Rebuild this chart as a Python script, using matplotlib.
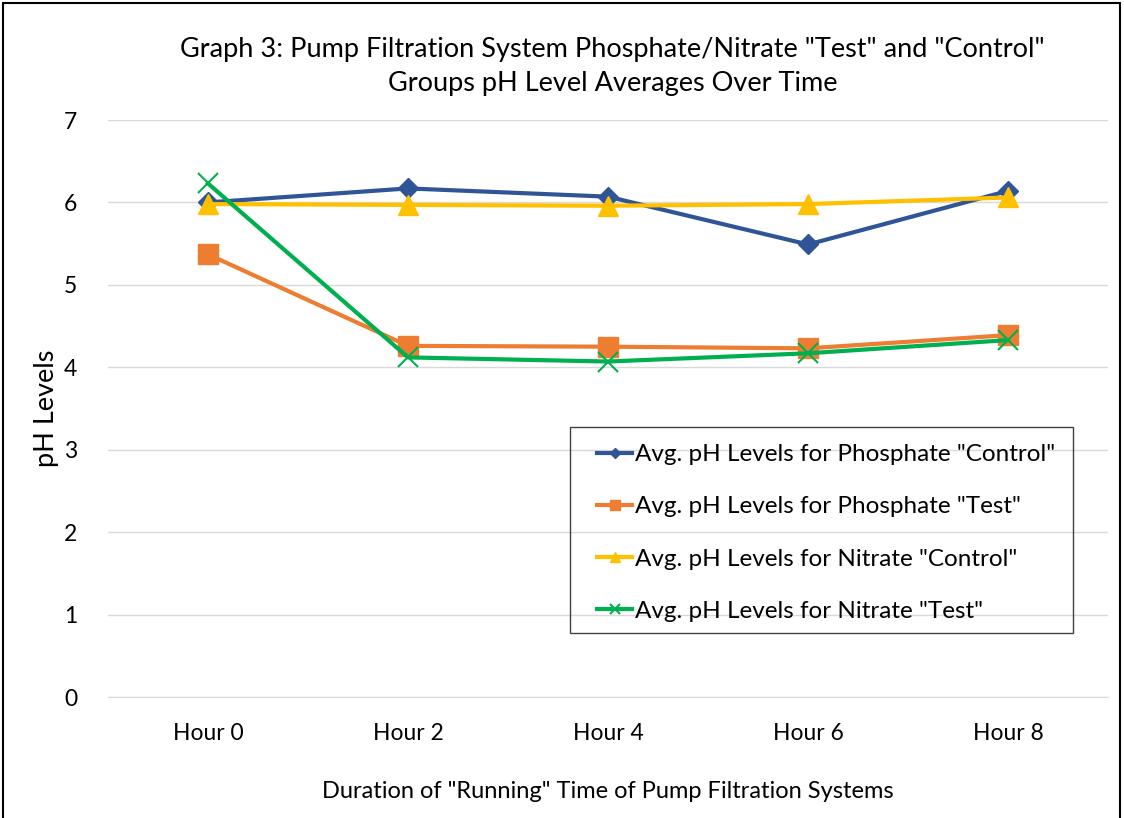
"""
Recreate Graph 3: pump filtration pH level averages over time.
"""

import matplotlib.pyplot as plt
from matplotlib.patches import Rectangle

plt.rcParams["font.family"] = ["Lato", "DejaVu Sans"]

HOURS = ["Hour 0", "Hour 2", "Hour 4", "Hour 6", "Hour 8"]

phosphate_control = [6.00, 6.17, 6.07, 5.49, 6.14]
phosphate_test = [5.37, 4.26, 4.25, 4.23, 4.39]
nitrate_control = [5.98, 5.97, 5.96, 5.98, 6.06]
nitrate_test = [6.23, 4.12, 4.07, 4.17, 4.33]


def main():
    fig = plt.figure(figsize=(11.24, 8.18), dpi=100)
    ax = fig.add_axes([0.0961, 0.1479, 0.8897, 0.7054])

    x = range(len(HOURS))
    ax.plot(x, phosphate_control, marker="D", markersize=10, linewidth=3,
            color="#2F5597", label='Avg. pH Levels for Phosphate "Control"')
    ax.plot(x, phosphate_test, marker="s", markersize=14, linewidth=3,
            color="#ED7D31", label='Avg. pH Levels for Phosphate "Test"')
    ax.plot(x, nitrate_control, marker="^", markersize=14, linewidth=3,
            color="#FFC000", label='Avg. pH Levels for Nitrate "Control"')
    ax.plot(x, nitrate_test, marker="x", markersize=14, markeredgewidth=1.5,
            linewidth=3, color="#00B050", label='Avg. pH Levels for Nitrate "Test"')

    ax.set_xlim(-0.5, 4.5)
    ax.set_ylim(0, 7)
    ax.set_xticks(list(x))
    ax.set_xticklabels(HOURS, fontsize=16.5)
    ax.set_yticks(range(8))
    ax.tick_params(axis="y", labelsize=16.5, length=0, pad=22)
    ax.tick_params(axis="x", length=0, pad=19)
    ax.grid(axis="y", color="#D9D9D9", linewidth=1)
    ax.set_axisbelow(True)
    for side in ["top", "right", "left"]:
        ax.spines[side].set_visible(False)
    ax.spines["bottom"].set_color("#D9D9D9")

    ax.set_ylabel("pH Levels", fontsize=19.5, labelpad=4)
    ax.set_xlabel('Duration of "Running" Time of Pump Filtration Systems',
                  fontsize=17, labelpad=26)
    fig.text(0.545, 0.940,
             'Graph 3: Pump Filtration System Phosphate/Nitrate "Test" and "Control"',
             ha="center", va="center", fontsize=19.5)
    fig.text(0.545, 0.898, "Groups pH Level Averages Over Time",
             ha="center", va="center", fontsize=19.5)

    # legend entries without frame, box drawn separately for exact padding
    ax.legend(loc="upper left", bbox_to_anchor=(0.489, 0.438),
              borderaxespad=0, borderpad=0, fontsize=17.5, frameon=False,
              handlelength=1.45, handletextpad=0.1, labelspacing=1.28,
              markerscale=0.55)
    ax.add_patch(Rectangle((0.462, 0.111), 0.503, 0.357,
                           transform=ax.transAxes, fill=False,
                           edgecolor="#404040", linewidth=1, zorder=5))

    fig.patches.append(Rectangle((0.003, -0.01), 0.993, 1.006,
                                 transform=fig.transFigure, fill=False,
                                 edgecolor="black", linewidth=1.5))

    fig.savefig("out.png", dpi=100)


if __name__ == "__main__":
    main()
